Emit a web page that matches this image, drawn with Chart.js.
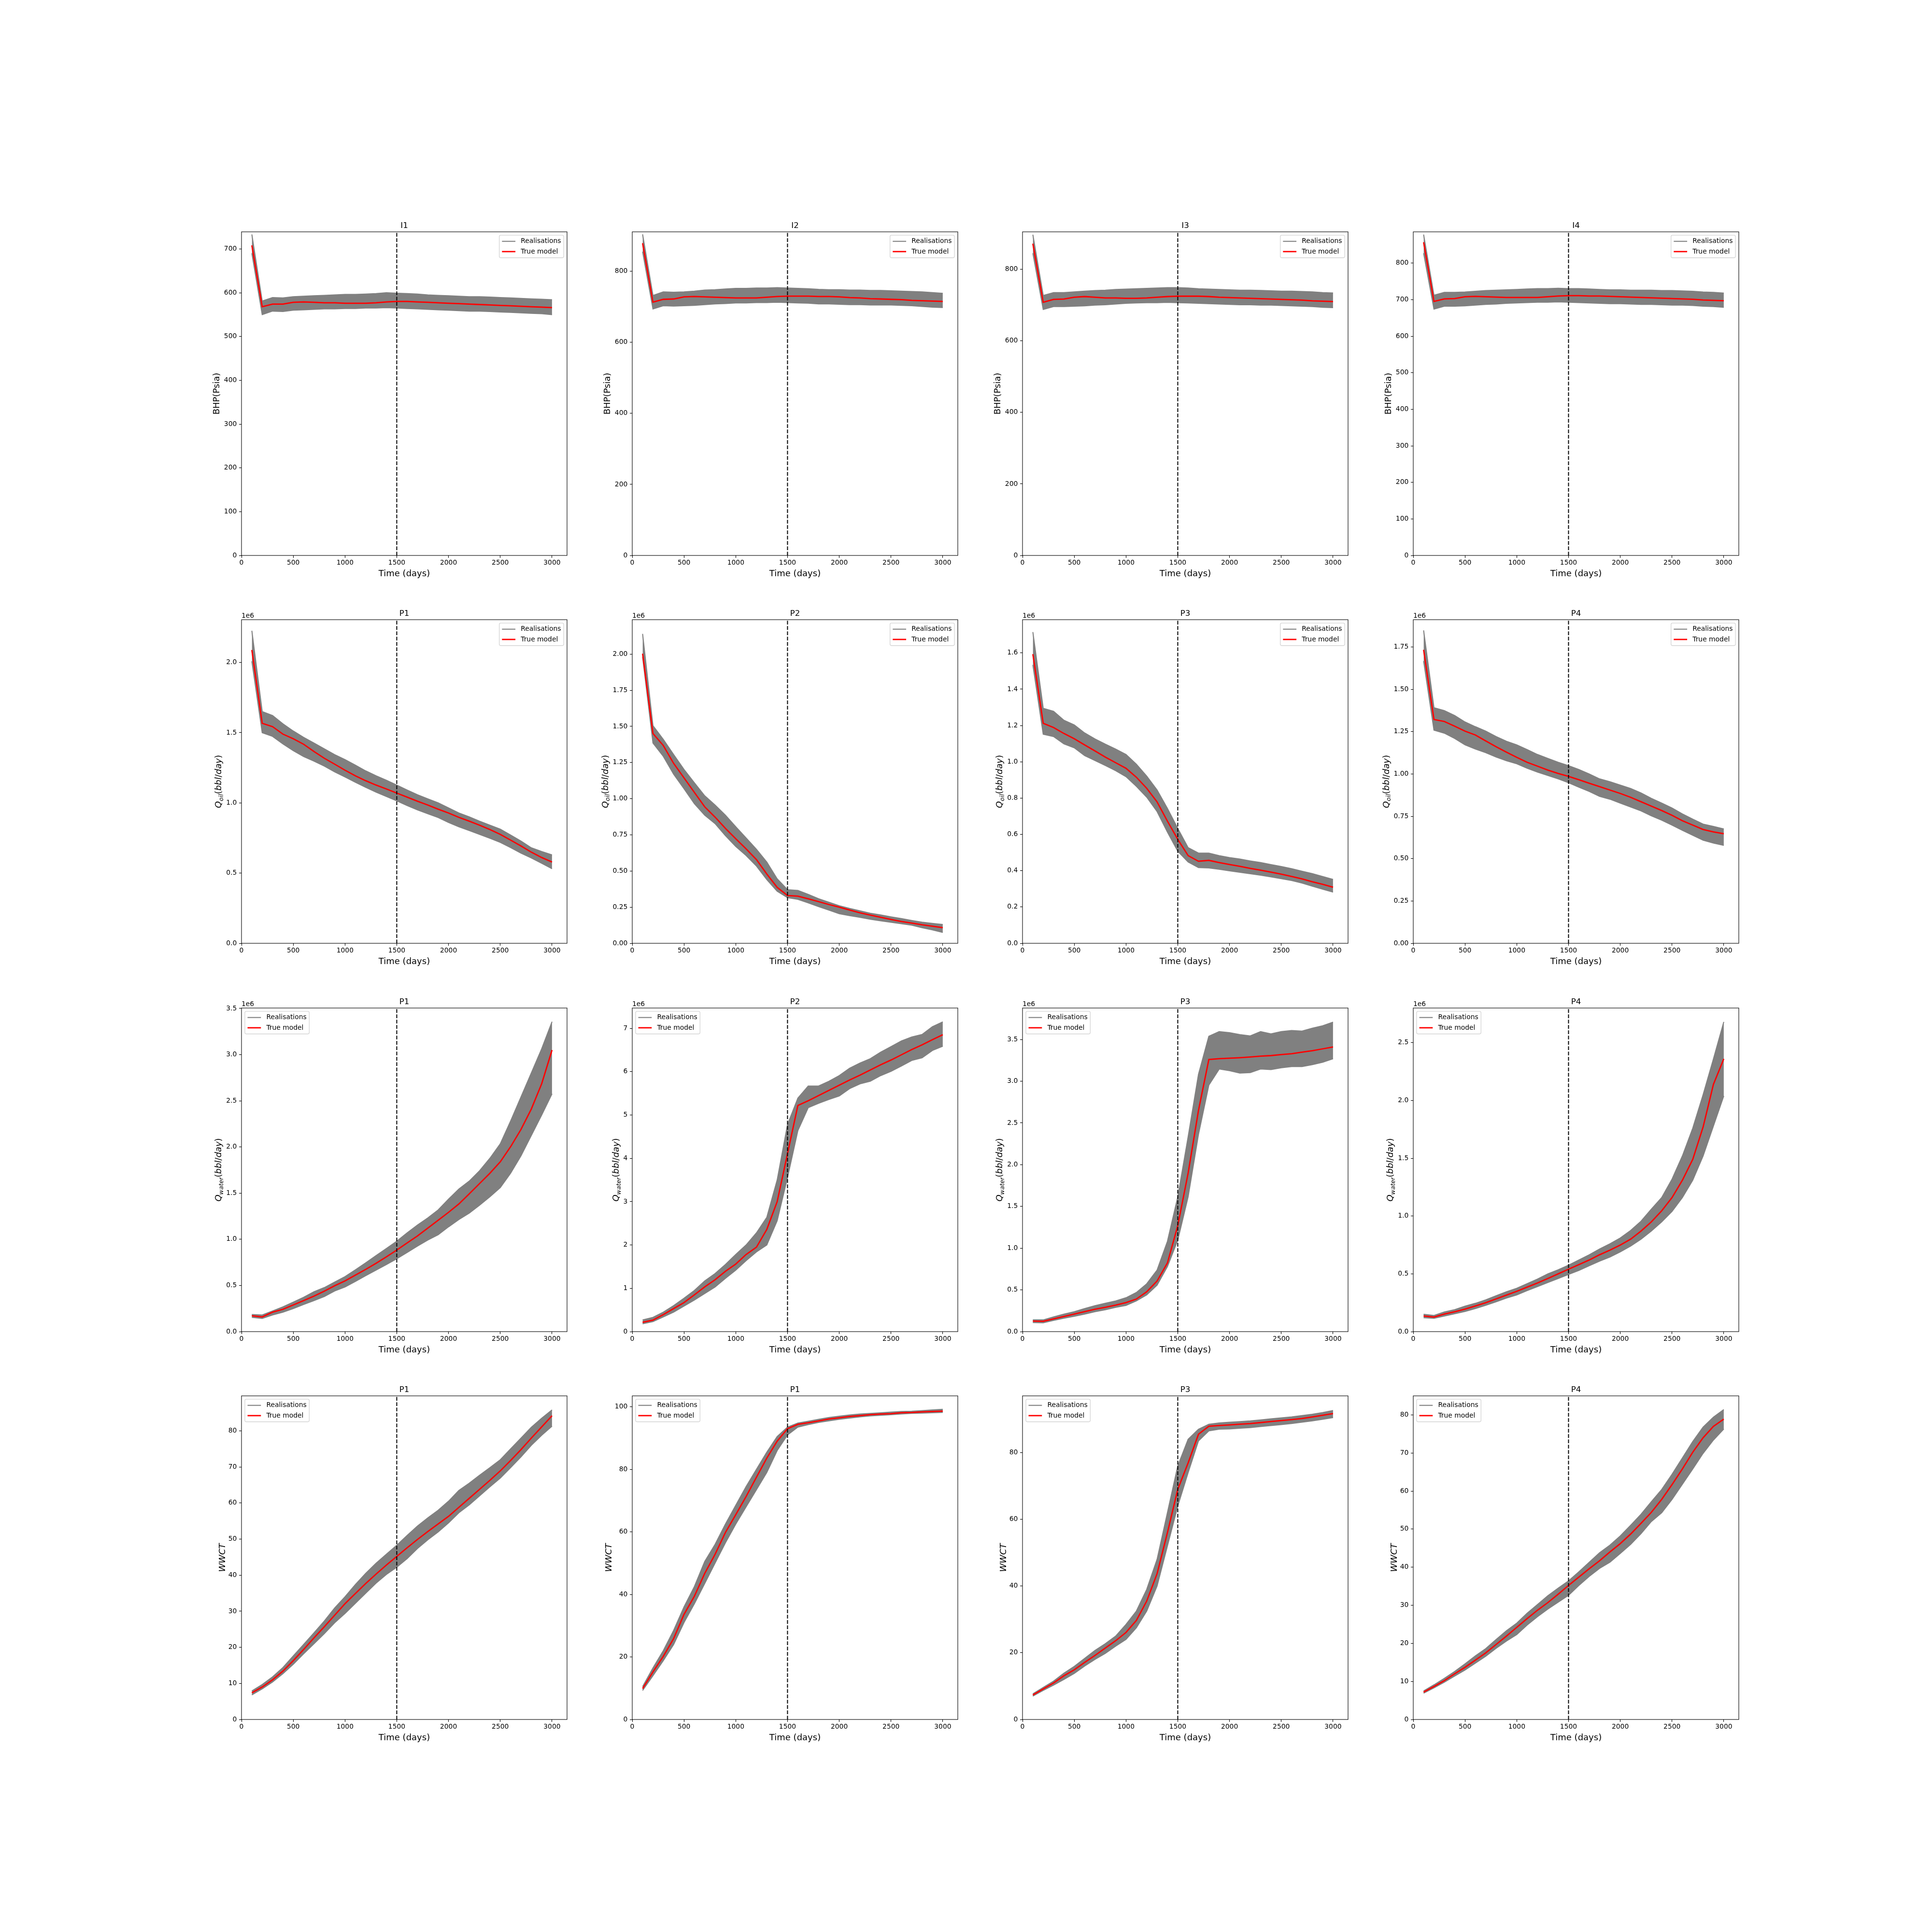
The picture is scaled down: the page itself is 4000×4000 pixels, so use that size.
<!DOCTYPE html>
<html>
<head>
<meta charset="utf-8">
<script src="https://cdn.jsdelivr.net/npm/chart.js@4.4.1/dist/chart.umd.min.js"></script>
<style>
html, body { margin: 0; padding: 0; background: #fff; }
body { width: 4000px; height: 4000px; position: relative; overflow: hidden; }
.panel { position: absolute; }
</style>
</head>
<body>
<script>
// report times (days), shared by every panel
const times = [100,200,300,400,500,600,700,800,900,1000,1100,1200,1300,1400,1500,
               1600,1700,1800,1900,2000,2100,2200,2300,2400,2500,2600,2700,2800,2900,3000];
const splitDay = 1500;
const xTicks = [0,500,1000,1500,2000,2500,3000];

// injector BHP (Psia): true model, top and bottom of the realisation band
const i1True = [708,568,574,574,578,579,578,577,577,576,576,576,577,579,580,580,579,578,577,576,575,574,573,572,571,570,569,568,567,566];
const i1Hi   = [733,581,589,588,591,592,593,594,595,596,596,597,598,600,599,598,597,595,594,593,592,591,591,590,589,588,587,586,585,584];
const i1Lo   = [690,550,558,557,560,561,562,563,563,564,564,565,565,566,565,564,563,562,561,560,559,558,558,557,556,555,554,553,552,550];

const i2True = [879,713,721,722,728,729,728,727,726,725,725,725,727,729,730,730,730,729,729,728,726,725,723,722,721,720,718,717,716,715];
const i2Hi   = [904,732,742,741,742,744,747,748,750,752,752,753,753,754,753,752,751,749,748,748,747,747,746,746,745,744,743,742,740,738];
const i2Lo   = [855,694,703,702,703,704,706,708,709,711,711,712,712,713,712,711,710,708,708,707,706,706,705,705,705,704,703,701,699,698];

const i3True = [872,708,716,717,722,724,722,720,720,719,719,720,722,724,725,725,725,724,722,721,720,719,718,717,716,715,714,712,711,710];
const i3Hi   = [897,727,735,735,737,739,741,742,744,745,746,747,748,749,749,748,746,745,744,743,742,742,741,740,739,739,738,737,735,734];
const i3Lo   = [845,688,696,696,697,698,700,701,703,705,706,707,707,708,707,706,705,704,703,702,701,701,700,700,699,698,697,696,694,693];

const i4True = [857,695,702,703,708,709,708,707,706,706,706,706,708,710,711,711,710,710,709,708,707,706,705,704,703,702,701,699,698,697];
const i4Hi   = [878,712,720,720,721,723,725,726,727,728,729,730,730,731,730,730,729,728,727,727,726,726,726,725,725,724,723,721,720,718];
const i4Lo   = [827,674,682,682,683,685,687,688,690,691,692,693,693,694,693,692,691,690,689,689,688,687,687,686,685,685,684,682,681,679];

// producer oil rate (x 1e6 bbl/day)
const p1OilTrue = [2.089,1.567,1.543,1.490,1.457,1.418,1.366,1.318,1.276,1.233,1.193,1.158,1.127,1.099,1.070,1.041,1.012,0.985,0.955,0.928,0.897,0.870,0.841,0.810,0.776,0.735,0.693,0.649,0.611,0.579];
const p1OilHi   = [2.226,1.651,1.622,1.563,1.512,1.467,1.426,1.385,1.344,1.308,1.269,1.228,1.193,1.161,1.127,1.092,1.058,1.029,1.000,0.964,0.928,0.901,0.870,0.841,0.813,0.771,0.728,0.680,0.654,0.630];
const p1OilLo   = [2.009,1.500,1.474,1.420,1.372,1.330,1.298,1.262,1.221,1.185,1.147,1.111,1.077,1.046,1.015,0.981,0.950,0.923,0.896,0.861,0.830,0.803,0.776,0.748,0.719,0.682,0.642,0.608,0.570,0.531];

const p2OilTrue = [2.003,1.451,1.368,1.244,1.144,1.044,0.944,0.873,0.795,0.723,0.653,0.579,0.479,0.387,0.330,0.326,0.308,0.288,0.268,0.250,0.230,0.211,0.195,0.180,0.165,0.151,0.140,0.128,0.118,0.108];
const p2OilHi   = [2.140,1.505,1.410,1.305,1.202,1.110,1.020,0.956,0.886,0.806,0.728,0.650,0.562,0.446,0.371,0.366,0.338,0.308,0.284,0.260,0.241,0.225,0.208,0.196,0.183,0.171,0.158,0.146,0.138,0.130];
const p2OilLo   = [1.980,1.385,1.293,1.169,1.069,0.966,0.886,0.828,0.745,0.670,0.607,0.534,0.441,0.360,0.316,0.304,0.280,0.254,0.230,0.205,0.191,0.180,0.166,0.155,0.145,0.135,0.125,0.108,0.093,0.075];

const p3OilTrue = [1.593,1.212,1.189,1.156,1.127,1.093,1.060,1.026,0.995,0.964,0.915,0.854,0.779,0.673,0.573,0.483,0.452,0.457,0.445,0.434,0.424,0.413,0.403,0.392,0.381,0.368,0.355,0.339,0.325,0.309];
const p3OilHi   = [1.715,1.295,1.278,1.229,1.203,1.159,1.126,1.097,1.070,1.040,0.987,0.921,0.845,0.743,0.633,0.527,0.497,0.497,0.483,0.472,0.464,0.454,0.445,0.434,0.423,0.411,0.397,0.384,0.368,0.352];
const p3OilLo   = [1.534,1.152,1.139,1.099,1.077,1.034,1.007,0.980,0.951,0.918,0.865,0.805,0.726,0.613,0.507,0.448,0.417,0.415,0.408,0.399,0.391,0.383,0.375,0.366,0.356,0.346,0.332,0.315,0.298,0.282];

const p4OilTrue = [1.733,1.322,1.310,1.282,1.253,1.230,1.195,1.161,1.129,1.098,1.069,1.046,1.023,1.003,0.986,0.966,0.945,0.925,0.905,0.885,0.862,0.836,0.810,0.784,0.756,0.724,0.698,0.672,0.658,0.647];
const p4OilHi   = [1.848,1.391,1.374,1.345,1.307,1.279,1.253,1.221,1.193,1.172,1.144,1.115,1.092,1.069,1.049,1.026,1.000,0.971,0.954,0.934,0.914,0.888,0.856,0.828,0.799,0.764,0.733,0.704,0.690,0.675];
const p4OilLo   = [1.667,1.259,1.241,1.210,1.172,1.147,1.126,1.100,1.078,1.060,1.034,1.011,0.991,0.971,0.948,0.922,0.897,0.868,0.851,0.828,0.805,0.782,0.753,0.727,0.698,0.667,0.638,0.609,0.592,0.578];

// producer water rate (x 1e6 bbl/day)
const p1WatTrue = [0.172,0.159,0.211,0.242,0.289,0.336,0.385,0.438,0.497,0.549,0.612,0.674,0.740,0.810,0.883,0.961,1.036,1.122,1.206,1.292,1.383,1.492,1.604,1.716,1.839,2.003,2.190,2.411,2.685,3.050];
const p1WatHi   = [0.185,0.180,0.224,0.268,0.320,0.372,0.432,0.477,0.536,0.596,0.669,0.745,0.823,0.901,0.979,1.070,1.154,1.232,1.318,1.435,1.544,1.630,1.742,1.878,2.034,2.281,2.542,2.802,3.063,3.357];
const p1WatLo   = [0.154,0.143,0.180,0.211,0.250,0.294,0.336,0.380,0.440,0.484,0.544,0.607,0.667,0.727,0.789,0.857,0.927,0.992,1.049,1.135,1.214,1.284,1.370,1.461,1.560,1.716,1.904,2.125,2.346,2.576];

const p2WatTrue = [0.216,0.266,0.394,0.532,0.670,0.849,1.032,1.198,1.392,1.560,1.780,1.950,2.360,3.000,4.110,5.220,5.330,5.450,5.570,5.690,5.810,5.920,6.040,6.160,6.270,6.390,6.510,6.620,6.740,6.855];
const p2WatHi   = [0.270,0.330,0.450,0.600,0.770,0.950,1.170,1.340,1.550,1.780,2.000,2.280,2.640,3.500,4.780,5.390,5.670,5.670,5.780,5.910,6.080,6.200,6.300,6.450,6.580,6.710,6.800,6.860,7.040,7.150];
const p2WatLo   = [0.180,0.230,0.340,0.450,0.590,0.730,0.880,1.030,1.230,1.420,1.640,1.840,2.000,2.560,3.560,4.640,5.170,5.270,5.360,5.440,5.610,5.720,5.780,5.910,6.010,6.130,6.260,6.320,6.490,6.590];

const p3WatTrue = [0.127,0.124,0.153,0.181,0.210,0.239,0.268,0.291,0.317,0.348,0.390,0.478,0.607,0.823,1.270,1.900,2.650,3.260,3.270,3.276,3.282,3.290,3.300,3.307,3.319,3.330,3.348,3.365,3.388,3.411];
const p3WatHi   = [0.141,0.141,0.176,0.210,0.239,0.276,0.311,0.340,0.368,0.406,0.469,0.573,0.737,1.082,1.615,2.334,3.083,3.538,3.595,3.581,3.558,3.543,3.595,3.567,3.595,3.607,3.601,3.636,3.664,3.708];
const p3WatLo   = [0.109,0.106,0.135,0.161,0.184,0.210,0.239,0.262,0.291,0.314,0.368,0.440,0.556,0.780,1.097,1.615,2.363,2.953,3.146,3.126,3.097,3.103,3.146,3.140,3.161,3.175,3.175,3.198,3.227,3.270];

const p4WatTrue = [0.135,0.126,0.152,0.172,0.195,0.222,0.250,0.283,0.316,0.349,0.385,0.421,0.460,0.500,0.540,0.580,0.620,0.665,0.705,0.749,0.800,0.870,0.950,1.045,1.160,1.310,1.490,1.770,2.140,2.360];
const p4WatHi   = [0.150,0.140,0.170,0.190,0.220,0.245,0.275,0.310,0.345,0.375,0.415,0.455,0.500,0.535,0.575,0.620,0.665,0.715,0.760,0.810,0.875,0.955,1.060,1.160,1.320,1.520,1.760,2.050,2.360,2.680];
const p4WatLo   = [0.120,0.115,0.135,0.155,0.175,0.200,0.228,0.258,0.290,0.318,0.355,0.390,0.425,0.460,0.495,0.530,0.570,0.610,0.645,0.690,0.740,0.800,0.870,0.950,1.040,1.160,1.310,1.520,1.780,2.040];

// water cut (%)
const w1True = [7.4,9.0,11.0,13.4,16.3,19.4,22.6,25.7,28.9,32.1,34.9,37.7,40.3,42.8,45.2,47.6,49.9,52.1,54.2,56.3,58.8,61.3,63.8,66.3,68.9,71.8,74.8,78.0,81.1,84.2];
const w1Hi   = [7.9,9.7,11.8,14.4,17.6,20.8,24.0,27.3,30.9,34.0,37.4,40.5,43.3,45.8,48.3,51.0,53.6,55.9,58.0,60.5,63.5,65.5,67.7,69.8,72.0,75.0,78.0,81.0,83.5,85.8];
const w1Lo   = [6.8,8.5,10.4,12.7,15.3,18.2,21.0,23.8,26.8,29.4,32.2,35.0,37.8,40.2,42.2,44.6,47.4,49.8,52.0,54.5,57.3,59.5,62.0,64.5,66.9,69.8,72.8,76.0,78.8,81.3];

const w2True = [9.9,15.2,20.2,25.9,33.6,39.4,46.7,52.8,59.8,65.5,71.3,77.5,83.6,89.0,93.0,94.4,94.9,95.5,96.1,96.5,96.9,97.2,97.5,97.7,97.8,98.1,98.2,98.4,98.5,98.6];
const w2Hi   = [10.5,16.5,22.0,28.5,36.0,42.5,50.5,56.0,62.5,68.5,74.5,80.0,85.5,90.5,93.5,94.8,95.4,96.0,96.6,97.0,97.4,97.7,97.9,98.1,98.3,98.5,98.6,98.8,99.0,99.2];
const w2Lo   = [9.3,14.0,18.8,24.0,31.0,37.0,43.5,50.0,56.5,62.5,68.0,73.5,79.0,86.0,91.0,93.5,94.3,95.0,95.5,96.0,96.4,96.8,97.1,97.3,97.5,97.7,97.9,98.0,98.1,98.2];

const w3True = [7.35,9.15,10.95,13.1,14.9,17.1,19.2,21.4,23.6,26.1,29.7,35.5,43.7,56.0,69.0,76.9,85.5,87.9,88.1,88.3,88.5,88.7,89.0,89.3,89.6,89.9,90.2,90.7,91.2,91.7];
const w3Hi   = [7.7,9.6,11.5,13.9,15.9,18.3,20.7,22.7,25.0,28.5,32.5,39.0,48.0,62.0,76.0,84.0,87.0,88.5,88.9,89.1,89.3,89.5,89.8,90.1,90.4,90.7,91.1,91.5,92.0,92.6];
const w3Lo   = [7.0,8.7,10.3,12.0,13.8,16.0,18.0,19.8,22.0,24.0,27.5,32.5,40.0,52.0,64.0,74.0,83.5,86.5,87.0,87.1,87.3,87.5,87.8,88.1,88.4,88.7,89.1,89.5,90.0,90.5];

const w4True = [7.2,8.65,10.2,12.0,13.7,15.6,17.5,19.7,21.9,24.2,26.5,28.7,30.7,32.9,35.2,37.4,39.6,41.7,44.0,46.2,48.7,51.5,54.4,57.8,61.7,65.8,70.2,74.0,77.0,78.9];
const w4Hi   = [7.5,9.1,10.8,12.6,14.6,16.7,18.6,21.0,23.3,25.3,27.9,30.2,32.5,34.5,36.4,38.8,41.3,43.8,45.8,48.2,51.0,53.9,57.2,60.4,64.4,68.7,73.0,76.8,79.4,81.4];
const w4Lo   = [6.9,8.3,9.8,11.4,13.0,14.8,16.6,18.7,20.6,22.3,24.8,27.0,29.0,30.8,32.6,35.2,37.6,39.7,41.3,43.6,46.0,48.8,52.0,54.3,57.8,61.8,65.8,69.9,73.4,76.3];

// y tick values
const i1Ticks = [0,100,200,300,400,500,600,700];
const i2Ticks = [0,200,400,600,800];
const i3Ticks = [0,200,400,600,800];
const i4Ticks = [0,100,200,300,400,500,600,700,800];
const p1OilTicks = [0,0.5,1.0,1.5,2.0];
const p2OilTicks = [0,0.25,0.5,0.75,1.0,1.25,1.5,1.75,2.0];
const p3OilTicks = [0,0.2,0.4,0.6,0.8,1.0,1.2,1.4,1.6];
const p4OilTicks = [0,0.25,0.5,0.75,1.0,1.25,1.5,1.75];
const p1WatTicks = [0,0.5,1.0,1.5,2.0,2.5,3.0,3.5];
const p2WatTicks = [0,1,2,3,4,5,6,7];
const p3WatTicks = [0,0.5,1.0,1.5,2.0,2.5,3.0,3.5];
const p4WatTicks = [0,0.5,1.0,1.5,2.0,2.5];
const w1Ticks = [0,10,20,30,40,50,60,70,80];
const w2Ticks = [0,20,40,60,80,100];
const w3Ticks = [0,20,40,60,80];
const w4Ticks = [0,10,20,30,40,50,60,70,80];

const xMax = 3145;

// y-axis label pieces (mathtext-like)
const labelBHP = [{t: 'BHP(Psia)'}];
const labelQoil = [{t: 'Q', it: 1}, {t: 'oil', it: 1, sub: 1}, {t: '('}, {t: 'bbl', it: 1}, {t: '/'}, {t: 'day', it: 1}, {t: ')'}];
const labelQwater = [{t: 'Q', it: 1}, {t: 'water', it: 1, sub: 1}, {t: '('}, {t: 'bbl', it: 1}, {t: '/'}, {t: 'day', it: 1}, {t: ')'}];
const labelWWCT = [{t: 'WWCT', it: 1}];

const panels = [
  {title: 'I1', truth: i1True, hi: i1Hi, lo: i1Lo, yMax: 739, yTicks: i1Ticks, dec: 0, ylabel: labelBHP, desc: 4.3, legend: 'right', offset: ''},
  {title: 'I2', truth: i2True, hi: i2Hi, lo: i2Lo, yMax: 911, yTicks: i2Ticks, dec: 0, ylabel: labelBHP, desc: 4.3, legend: 'right', offset: ''},
  {title: 'I3', truth: i3True, hi: i3Hi, lo: i3Lo, yMax: 905, yTicks: i3Ticks, dec: 0, ylabel: labelBHP, desc: 4.3, legend: 'right', offset: ''},
  {title: 'I4', truth: i4True, hi: i4Hi, lo: i4Lo, yMax: 885.5, yTicks: i4Ticks, dec: 0, ylabel: labelBHP, desc: 4.3, legend: 'right', offset: ''},
  {title: 'P1', truth: p1OilTrue, hi: p1OilHi, lo: p1OilLo, yMax: 2.305, yTicks: p1OilTicks, dec: 1, ylabel: labelQoil, desc: 4.3, legend: 'right', offset: '1e6'},
  {title: 'P2', truth: p2OilTrue, hi: p2OilHi, lo: p2OilLo, yMax: 2.238, yTicks: p2OilTicks, dec: 2, ylabel: labelQoil, desc: 4.3, legend: 'right', offset: '1e6'},
  {title: 'P3', truth: p3OilTrue, hi: p3OilHi, lo: p3OilLo, yMax: 1.783, yTicks: p3OilTicks, dec: 1, ylabel: labelQoil, desc: 4.3, legend: 'right', offset: '1e6'},
  {title: 'P4', truth: p4OilTrue, hi: p4OilHi, lo: p4OilLo, yMax: 1.911, yTicks: p4OilTicks, dec: 2, ylabel: labelQoil, desc: 4.3, legend: 'right', offset: '1e6'},
  {title: 'P1', truth: p1WatTrue, hi: p1WatHi, lo: p1WatLo, yMax: 3.505, yTicks: p1WatTicks, dec: 1, ylabel: labelQwater, desc: 4.3, legend: 'left', offset: '1e6'},
  {title: 'P2', truth: p2WatTrue, hi: p2WatHi, lo: p2WatLo, yMax: 7.47, yTicks: p2WatTicks, dec: 0, ylabel: labelQwater, desc: 4.3, legend: 'left', offset: '1e6'},
  {title: 'P3', truth: p3WatTrue, hi: p3WatHi, lo: p3WatLo, yMax: 3.877, yTicks: p3WatTicks, dec: 1, ylabel: labelQwater, desc: 4.3, legend: 'left', offset: '1e6'},
  {title: 'P4', truth: p4WatTrue, hi: p4WatHi, lo: p4WatLo, yMax: 2.8, yTicks: p4WatTicks, dec: 1, ylabel: labelQwater, desc: 4.3, legend: 'left', offset: '1e6'},
  {title: 'P1', truth: w1True, hi: w1Hi, lo: w1Lo, yMax: 89.7, yTicks: w1Ticks, dec: 0, ylabel: labelWWCT, desc: 1, legend: 'left', offset: ''},
  {title: 'P1', truth: w2True, hi: w2Hi, lo: w2Lo, yMax: 103.5, yTicks: w2Ticks, dec: 0, ylabel: labelWWCT, desc: 1, legend: 'left', offset: ''},
  {title: 'P3', truth: w3True, hi: w3Hi, lo: w3Lo, yMax: 97.0, yTicks: w3Ticks, dec: 0, ylabel: labelWWCT, desc: 1, legend: 'left', offset: ''},
  {title: 'P4', truth: w4True, hi: w4Hi, lo: w4Lo, yMax: 85.0, yTicks: w4Ticks, dec: 0, ylabel: labelWWCT, desc: 1, legend: 'left', offset: ''}
];

const FONT = "'DejaVu Sans', sans-serif";
const TICK_PX = 13.89, TITLE_PX = 16.67, LABEL_PX = 18;
const PAD_L = 120, PAD_T = 50, PAD_R = 20, PAD_B = 70;

Chart.defaults.font.family = FONT;
Chart.defaults.font.size = TICK_PX;
Chart.defaults.color = '#000';

function pts(arr) {
  return times.map((t, i) => ({x: t, y: arr[i]}));
}

// matplotlib default subplot grid: left .125, right .9, bottom .11, top .88, wspace = hspace = .2
function axesBox(row, col) {
  const w = 3100 / 4.6, h = 3080 / 4.6;
  const left = 500 + col * w * 1.2, top = 480 + row * h * 1.2;
  return {
    left: Math.round(left), top: Math.round(top),
    w: Math.round(left + w) - Math.round(left), h: Math.round(top + h) - Math.round(top)
  };
}

function drawYLabel(ctx, parts, rightX, cy) {
  const fontFor = p => (p.it ? 'italic ' : '') + (p.sub ? LABEL_PX * 0.7 : LABEL_PX) + 'px ' + FONT;
  let total = 0;
  const widths = parts.map(p => { ctx.font = fontFor(p); const w = ctx.measureText(p.t).width; total += w; return w; });
  ctx.save();
  ctx.translate(rightX, cy);
  ctx.rotate(-Math.PI / 2);
  ctx.textAlign = 'left';
  ctx.textBaseline = 'alphabetic';
  let x = -total / 2;
  parts.forEach((p, i) => {
    ctx.font = fontFor(p);
    ctx.fillText(p.t, x, p.sub ? LABEL_PX * 0.22 : 0);
    x += widths[i];
  });
  ctx.restore();
}

function decor(p) {
  return {
    id: 'decor',
    afterDraw(chart) {
      const ctx = chart.ctx, a = chart.chartArea;
      const cx = (a.left + a.right) / 2;
      ctx.save();
      // axes frame
      ctx.strokeStyle = '#000';
      ctx.lineWidth = 1.1;
      ctx.strokeRect(a.left, a.top, a.right - a.left, a.bottom - a.top);
      ctx.fillStyle = '#000';

      // title
      ctx.font = TITLE_PX + 'px ' + FONT;
      ctx.textAlign = 'center';
      ctx.textBaseline = 'alphabetic';
      ctx.fillText(p.title, cx, a.top - 8.3);

      // x label
      ctx.font = LABEL_PX + 'px ' + FONT;
      ctx.fillText('Time (days)', cx, a.bottom + 42.5);

      // offset text
      if (p.offset) {
        ctx.font = TICK_PX + 'px ' + FONT;
        ctx.textAlign = 'left';
        ctx.fillText(p.offset, a.left, a.top - 4.2);
      }

      // y label, left of the widest tick label
      ctx.font = TICK_PX + 'px ' + FONT;
      let maxW = 0;
      p.yTicks.forEach(v => { maxW = Math.max(maxW, ctx.measureText(v.toFixed(p.dec)).width); });
      const tickLeft = a.left - 9.7 - maxW;
      drawYLabel(ctx, p.ylabel, tickLeft - 5.6 - p.desc, (a.top + a.bottom) / 2);

      // legend
      const fs = TICK_PX, pad = 0.4 * fs, hl = 2 * fs, htp = 0.8 * fs, ls = 0.5 * fs, bap = 0.5 * fs, rowH = fs * 1.03;
      const ds = chart.data.datasets;
      const items = [ds[1], ds[2]];
      ctx.font = fs + 'px ' + FONT;
      let tw = 0;
      items.forEach(d => { tw = Math.max(tw, ctx.measureText(d.label).width); });
      const bw = 2 * pad + hl + htp + tw, bh = 2 * pad + 2 * rowH + ls;
      const bx = p.legend === 'right' ? a.right - bap - bw : a.left + bap;
      const by = a.top + bap;
      ctx.beginPath();
      ctx.roundRect(bx, by, bw, bh, 0.2 * fs);
      ctx.fillStyle = 'rgba(255,255,255,0.8)';
      ctx.fill();
      ctx.strokeStyle = '#cccccc';
      ctx.lineWidth = 1.1;
      ctx.stroke();
      items.forEach((d, i) => {
        const cy = by + pad + i * (rowH + ls) + rowH / 2;
        ctx.beginPath();
        ctx.moveTo(bx + pad, cy);
        ctx.lineTo(bx + pad + hl, cy);
        ctx.strokeStyle = d.borderColor;
        ctx.lineWidth = d.borderWidth;
        ctx.stroke();
        ctx.fillStyle = '#000';
        ctx.textAlign = 'left';
        ctx.textBaseline = 'middle';
        ctx.fillText(d.label, bx + pad + hl + htp, cy);
      });
      ctx.restore();
    }
  };
}

panels.forEach((p, idx) => {
  const row = Math.floor(idx / 4), col = idx % 4;
  const box = axesBox(row, col);
  const W = PAD_L + box.w + PAD_R, H = PAD_T + box.h + PAD_B;

  const div = document.createElement('div');
  div.className = 'panel';
  div.style.left = (box.left - PAD_L) + 'px';
  div.style.top = (box.top - PAD_T) + 'px';
  const canvas = document.createElement('canvas');
  canvas.width = W; canvas.height = H;
  canvas.style.width = W + 'px'; canvas.style.height = H + 'px';
  div.appendChild(canvas);
  document.body.appendChild(div);

  const tickGrid = {drawOnChartArea: false, drawTicks: true, tickLength: 5, tickColor: '#000', tickWidth: 1.1};

  new Chart(canvas, {
    type: 'line',
    data: {
      datasets: [
        {label: 'band low', data: pts(p.lo), borderColor: 'grey', borderWidth: 2.08, pointRadius: 0, fill: false, order: 3},
        {label: 'Realisations', data: pts(p.hi), borderColor: 'grey', backgroundColor: 'grey', borderWidth: 2.08, pointRadius: 0, fill: '-1', order: 2},
        {label: 'True model', data: pts(p.truth), borderColor: 'red', borderWidth: 2.78, pointRadius: 0, fill: false, order: 1},
        {label: 'split', data: [{x: splitDay, y: 0}, {x: splitDay, y: p.yMax}], borderColor: '#000', borderWidth: 2,
         borderDash: [7.7, 3.3], pointRadius: 0, fill: false, order: 0}
      ]
    },
    options: {
      responsive: false,
      animation: false,
      devicePixelRatio: 1,
      layout: {padding: {left: 0, top: PAD_T, right: PAD_R, bottom: 0}},
      plugins: {legend: {display: false}, tooltip: {enabled: false}, title: {display: false}},
      scales: {
        x: {
          type: 'linear', min: 0, max: xMax,
          afterBuildTicks: s => { s.ticks = xTicks.map(v => ({value: v})); },
          afterFit: s => { s.height = PAD_B; },
          ticks: {autoSkip: false, maxRotation: 0, padding: 3, font: {size: TICK_PX, lineHeight: 1}, color: '#000',
                  callback: v => String(v)},
          grid: tickGrid,
          border: {display: false}
        },
        y: {
          type: 'linear', min: 0, max: p.yMax,
          afterBuildTicks: s => { s.ticks = p.yTicks.map(v => ({value: v})); },
          afterFit: s => { s.width = PAD_L; },
          ticks: {autoSkip: false, padding: 4.7, font: {size: TICK_PX, lineHeight: 1}, color: '#000',
                  callback: v => v.toFixed(p.dec)},
          grid: tickGrid,
          border: {display: false}
        }
      }
    },
    plugins: [decor(p)]
  });
});
</script>
</body>
</html>
